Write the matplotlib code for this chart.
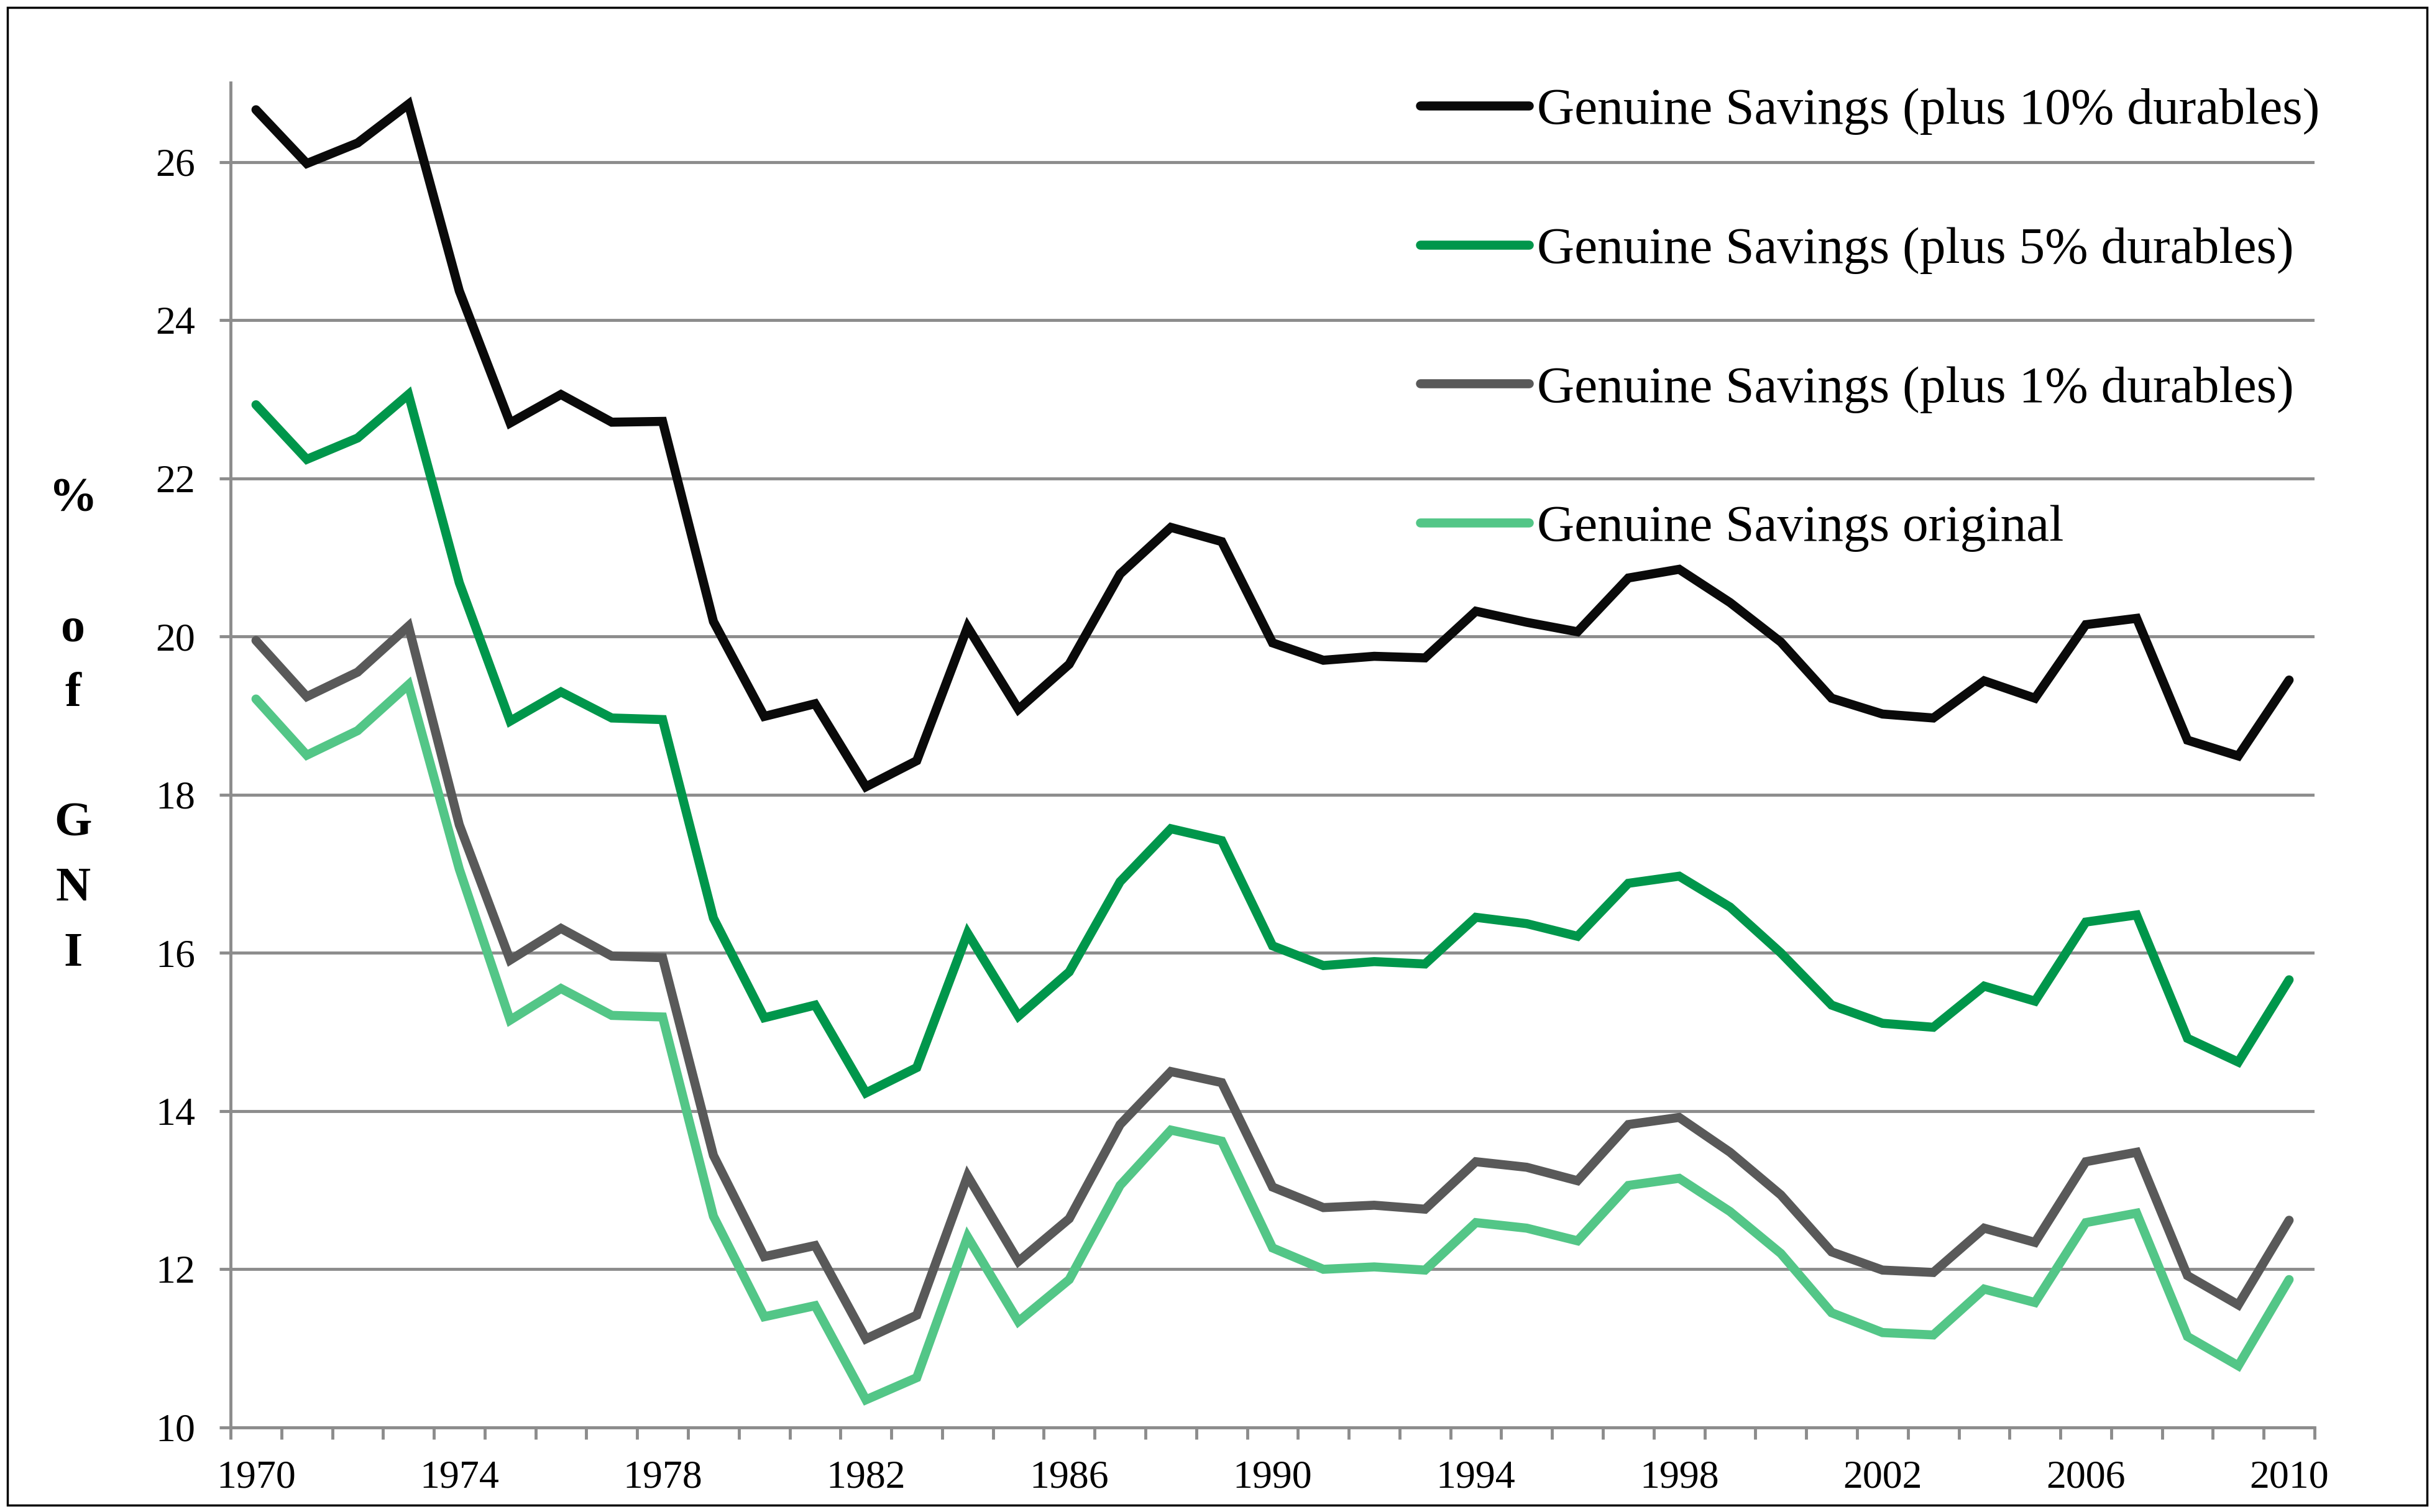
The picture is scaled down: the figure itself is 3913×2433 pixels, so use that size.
import matplotlib
matplotlib.use("Agg")
import matplotlib.pyplot as plt
from matplotlib.patches import Rectangle
from matplotlib.ticker import FixedLocator

plt.rcParams['font.family'] = ['Liberation Serif', 'DejaVu Serif']

# years on the category axis
years = list(range(1970, 2011))

# Genuine savings, % of GNI
gs_plus10 = [26.66, 25.98, 26.24, 26.73, 24.37, 22.70, 23.06, 22.71, 22.72, 20.19,
             18.99, 19.15, 18.10, 18.43, 20.12, 19.08, 19.65, 20.79, 21.38, 21.20,
             19.92, 19.70, 19.75, 19.73, 20.32, 20.18, 20.06, 20.74, 20.85, 20.43,
             19.93, 19.22, 19.02, 18.97, 19.44, 19.22, 20.15, 20.23, 18.69, 18.49,
             19.45]
gs_plus5 = [22.93, 22.24, 22.51, 23.06, 20.68, 18.93, 19.30, 18.97, 18.95, 16.44,
            15.18, 15.34, 14.23, 14.55, 16.25, 15.20, 15.76, 16.90, 17.57, 17.42,
            16.09, 15.84, 15.89, 15.86, 16.45, 16.37, 16.21, 16.88, 16.97, 16.58,
            16.00, 15.34, 15.11, 15.06, 15.58, 15.39, 16.39, 16.48, 14.92, 14.62,
            15.66]
gs_plus1 = [19.95, 19.24, 19.55, 20.13, 17.62, 15.91, 16.31, 15.96, 15.94, 13.44,
            12.16, 12.30, 11.12, 11.42, 13.18, 12.10, 12.64, 13.83, 14.50, 14.36,
            13.04, 12.78, 12.81, 12.76, 13.36, 13.29, 13.12, 13.83, 13.92, 13.48,
            12.94, 12.22, 11.99, 11.96, 12.52, 12.34, 13.36, 13.48, 11.92, 11.55,
            12.62]
gs_orig = [19.21, 18.50, 18.81, 19.39, 17.06, 15.15, 15.55, 15.21, 15.19, 12.67,
           11.40, 11.54, 10.35, 10.63, 12.41, 11.34, 11.87, 13.06, 13.76, 13.62,
           12.27, 12.00, 12.03, 11.99, 12.59, 12.52, 12.36, 13.06, 13.15, 12.73,
           12.20, 11.45, 11.20, 11.17, 11.75, 11.58, 12.59, 12.71, 11.15, 10.78,
           11.87]

labels = ["Genuine Savings (plus 10% durables)",
          "Genuine Savings (plus 5% durables)",
          "Genuine Savings (plus 1% durables)",
          "Genuine Savings original"]
colors = ["#0a0a0a", "#00964B", "#595959", "#53C687"]
year_labels = [1970, 1974, 1978, 1982, 1986, 1990, 1994, 1998, 2002, 2006, 2010]

grid_col = "#8C8C8C"

fig = plt.figure(figsize=(39.13, 24.33), dpi=100)
ax = fig.add_axes([0.0948, 0.0559, 0.8569, 0.8893])

for series, lab, col in zip([gs_plus10, gs_plus5, gs_plus1, gs_orig], labels, colors):
    ax.plot(years, series, color=col, lw=10.5, label=lab,
            solid_capstyle='round', solid_joinstyle='miter')

ax.set_xlim(1969.5, 2010.5)
ax.set_ylim(10, 27)
ax.yaxis.set_major_locator(FixedLocator(list(range(10, 27, 2))))
ax.xaxis.set_major_locator(FixedLocator(year_labels))
ax.xaxis.set_minor_locator(FixedLocator([y + 0.5 for y in range(1969, 2011)]))

ax.grid(axis='y', color=grid_col, lw=3.5)
ax.set_axisbelow(True)
for s in ['top', 'right']:
    ax.spines[s].set_visible(False)
for s in ['left', 'bottom']:
    ax.spines[s].set_color(grid_col)
    ax.spines[s].set_linewidth(3.5)

ax.tick_params(axis='y', which='major', length=13, width=3.5, color=grid_col,
               pad=28, labelsize=46)
ax.tick_params(axis='x', which='major', length=0, pad=38, labelsize=46)
ax.tick_params(axis='x', which='minor', length=14, width=3.5, color=grid_col)

# stacked letters as in the original y title
ax.set_ylabel("%\n\no\nf\n\nG\nN\nI", rotation=0, fontweight='bold', fontsize=56,
              linespacing=1.62, va='center', ha='center')
ax.yaxis.set_label_coords(-0.0755, 0.521)

ax.legend(loc='upper left', bbox_to_anchor=(0.584, 0.9422),
          bbox_transform=fig.transFigure, frameon=False, fontsize=60,
          handlelength=2.1, handletextpad=0.15, labelspacing=1.77,
          borderpad=0, borderaxespad=0)

fig.patches.append(Rectangle((0.003, 0.0045), 0.995, 0.9905, transform=fig.transFigure,
                             fill=False, ec='black', lw=2.5))

fig.savefig("out.png", dpi=100)
